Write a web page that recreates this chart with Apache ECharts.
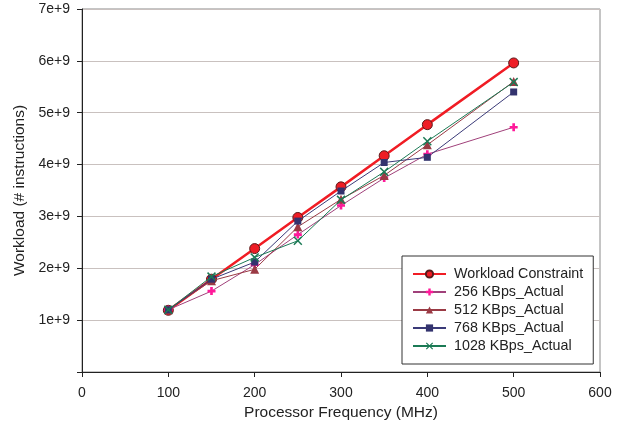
<!DOCTYPE html>
<html>
<head>
<meta charset="utf-8">
<script src="https://cdn.jsdelivr.net/npm/echarts@6/dist/echarts.min.js"></script>
<style>
  html, body { margin: 0; padding: 0; background: #fff; }
  #main { width: 629px; height: 428px; }
</style>
</head>
<body>
<div id="main"></div>
<script>
  // 数据
  var freqs = [100, 150, 200, 250, 300, 350, 400, 500]
  var constraint = [1.19e9, 1.79e9, 2.38e9, 2.98e9, 3.57e9, 4.17e9, 4.77e9, 5.96e9]
  var kbps256 = [1.2e9, 1.56e9, 2.07e9, 2.65e9, 3.21e9, 3.74e9, 4.2e9, 4.72e9]
  var kbps512 = [1.2e9, 1.76e9, 1.98e9, 2.8e9, 3.33e9, 3.79e9, 4.38e9, 5.6e9]
  var kbps768 = [1.2e9, 1.79e9, 2.12e9, 2.91e9, 3.49e9, 4.04e9, 4.14e9, 5.4e9]
  var kbps1028 = [1.2e9, 1.84e9, 2.21e9, 2.53e9, 3.32e9, 3.86e9, 4.45e9, 5.59e9]
  var yTicks = ['', '1e+9', '2e+9', '3e+9', '4e+9', '5e+9', '6e+9', '7e+9']

  var plusPath = 'path://M2,0H4V2H6V4H4V6H2V4H0V2H2Z'
  var crossPath = 'path://M0,0.7L0.7,0L3,2.3L5.3,0L6,0.7L3.7,3L6,5.3L5.3,6L3,3.7L0.7,6L0,5.3L2.3,3Z'

  function pairs(vals) {
    return freqs.map(function(f, i) { return [f, vals[i]] })
  }

  var chart = echarts.init(document.getElementById('main'), null, { renderer: 'canvas' })
  chart.setOption({
    animation: false,
    textStyle: { fontFamily: 'Liberation Sans, Arial, sans-serif' },
    grid: { left: 82, right: 29, top: 9, bottom: 56, show: true, borderColor: '#8a8a8a', borderWidth: 1 },
    xAxis: {
      type: 'value',
      min: 0,
      max: 600,
      interval: 100,
      name: 'Processor Frequency (MHz)',
      nameLocation: 'middle',
      nameGap: 31,
      nameTextStyle: { fontSize: 15.5, color: '#222' },
      axisLine: { show: true, onZero: false, lineStyle: { color: '#222', width: 1 } },
      axisTick: { show: true, length: 5, lineStyle: { color: '#222' } },
      axisLabel: { fontSize: 14, color: '#222', margin: 14 },
      splitLine: { show: false }
    },
    yAxis: {
      type: 'value',
      min: 0,
      max: 7e9,
      interval: 1e9,
      name: 'Workload (# instructions)',
      nameLocation: 'middle',
      nameGap: 49,
      nameTextStyle: { fontSize: 15.5, color: '#222' },
      axisLine: { show: true, onZero: false, lineStyle: { color: '#222', width: 1 } },
      axisTick: { show: true, length: 5, lineStyle: { color: '#222' } },
      axisLabel: {
        fontSize: 14,
        color: '#222',
        margin: 12,
        formatter: function(v) { return yTicks[Math.round(v / 1e9)] }
      },
      splitLine: { show: true, lineStyle: { color: '#c9c1bf', width: 1 } }
    },
    legend: {
      orient: 'vertical',
      left: 402,
      top: 256,
      padding: [11, 10, 11, 10],
      backgroundColor: '#fff',
      borderColor: '#333',
      borderWidth: 1,
      itemWidth: 33,
      itemHeight: 9,
      itemGap: 4,
      textStyle: { fontSize: 14.3, color: '#222', padding: [0, 0, 0, 3] },
      data: ['Workload Constraint', '256 KBps_Actual', '512 KBps_Actual', '768 KBps_Actual', '1028 KBps_Actual']
    },
    series: [
      {
        name: '256 KBps_Actual',
        type: 'line',
        data: pairs(kbps256),
        symbol: plusPath,
        symbolSize: 8,
        lineStyle: { color: '#a0407a', width: 1 },
        itemStyle: { color: '#ff1a9a' }
      },
      {
        name: '512 KBps_Actual',
        type: 'line',
        data: pairs(kbps512),
        symbol: 'triangle',
        symbolSize: 9,
        lineStyle: { color: '#9a3a44', width: 1 },
        itemStyle: { color: '#9a3a44' }
      },
      {
        name: '768 KBps_Actual',
        type: 'line',
        data: pairs(kbps768),
        symbol: 'rect',
        symbolSize: 7,
        lineStyle: { color: '#3a3a78', width: 1 },
        itemStyle: { color: '#33336e' }
      },
      {
        name: '1028 KBps_Actual',
        type: 'line',
        data: pairs(kbps1028),
        symbol: crossPath,
        symbolSize: 9,
        lineStyle: { color: '#1b7a55', width: 1 },
        itemStyle: { color: '#1b7a55' }
      },
      {
        name: 'Workload Constraint',
        type: 'line',
        data: pairs(constraint),
        symbol: 'circle',
        symbolSize: 10,
        z: 1,
        lineStyle: { color: '#f01c24', width: 2.5 },
        itemStyle: { color: '#ee1c25', borderColor: '#5a1a1a', borderWidth: 1 }
      }
    ]
  })
</script>
</body>
</html>
